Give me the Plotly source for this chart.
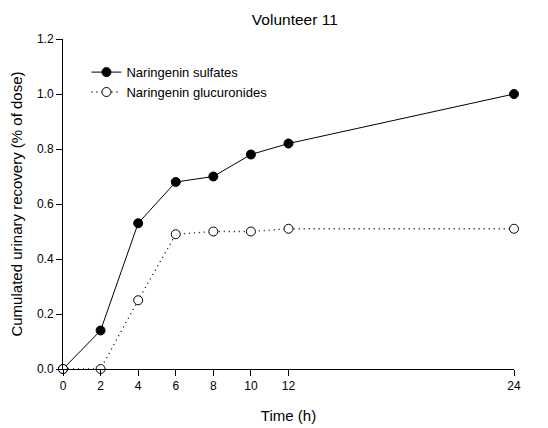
import plotly.graph_objects as go

time_h = [0, 2, 4, 6, 8, 10, 12, 24]
sulfates = [0.0, 0.14, 0.53, 0.68, 0.70, 0.78, 0.82, 1.00]
glucuronides = [0.0, 0.0, 0.25, 0.49, 0.50, 0.50, 0.51, 0.51]
x_ticks = [0, 2, 4, 6, 8, 10, 12, 24]
y_ticks = [0.0, 0.2, 0.4, 0.6, 0.8, 1.0, 1.2]

font = "Liberation Sans, Arial, sans-serif"

fig = go.Figure()
fig.add_trace(go.Scatter(
    x=time_h, y=sulfates, name="Naringenin sulfates",
    mode="lines+markers",
    line=dict(color="black", width=1),
    marker=dict(symbol="circle", size=9, color="black",
                line=dict(color="black", width=1)),
    cliponaxis=False,
))
fig.add_trace(go.Scatter(
    x=time_h, y=glucuronides, name="Naringenin glucuronides",
    mode="lines+markers",
    line=dict(color="black", width=1.3, dash="1px,4px"),
    marker=dict(symbol="circle", size=9, color="white",
                line=dict(color="black", width=1)),
    cliponaxis=False,
))

fig.update_layout(
    width=548, height=428,
    margin=dict(l=63, r=34, t=39, b=59),
    paper_bgcolor="white", plot_bgcolor="white",
    font=dict(family=font, size=12, color="black"),
    title=dict(text="Volunteer 11", x=0.538, xanchor="center",
               y=0.955, yanchor="middle", font=dict(size=15.5)),
    showlegend=True,
    legend=dict(x=0.052, y=0.945, xanchor="left", yanchor="top",
                bgcolor="rgba(0,0,0,0)", font=dict(size=13),
                tracegroupgap=0, itemwidth=30),
    xaxis=dict(
        range=[0, 24], tickmode="array", tickvals=x_ticks,
        ticktext=[str(v) for v in x_ticks],
        showgrid=False, zeroline=False, showline=True,
        linecolor="black", linewidth=1,
        ticks="outside", ticklen=6, tickcolor="black",
        tickfont=dict(size=12), automargin=False,
        title=dict(text="Time (h)", font=dict(size=15), standoff=18),
    ),
    yaxis=dict(
        range=[0, 1.2], tickmode="array", tickvals=y_ticks,
        tickformat=".1f",
        showgrid=False, zeroline=False, showline=True,
        linecolor="black", linewidth=1,
        ticks="outside", ticklen=6, tickcolor="black",
        tickfont=dict(size=12), automargin=False,
        title=dict(text="Cumulated urinary recovery (% of dose)",
                   font=dict(size=15), standoff=10),
    ),
)

fig.write_html("out.html")
